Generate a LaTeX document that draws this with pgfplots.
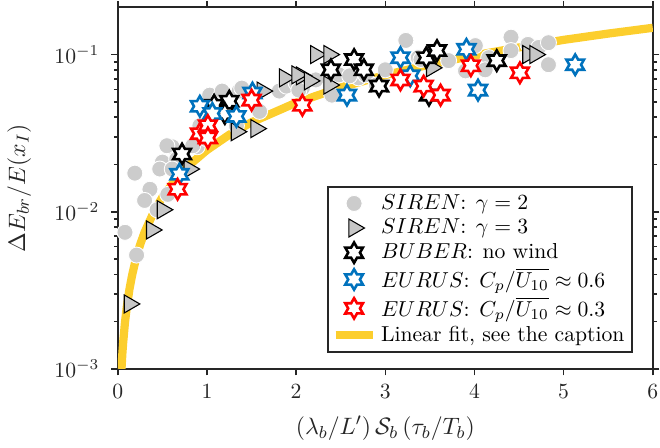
\documentclass[border=0pt]{standalone}
\usepackage{pgfplots}
\pgfplotsset{compat=1.18}

\definecolor{axgray}{rgb}{0.15,0.15,0.15}
\definecolor{sirengray}{rgb}{0.80,0.80,0.80}
\definecolor{trigray}{rgb}{0.78,0.78,0.78}
\definecolor{eurusblue}{rgb}{0.0,0.447,0.741}
\definecolor{fityellow}{RGB}{252,206,45}

% six-pointed star (hexagram) mark
\pgfdeclareplotmark{hexstar}{%
  \pgfpathmoveto{\pgfpointpolar{90}{\pgfplotmarksize}}%
  \pgfpathlineto{\pgfpointpolar{120}{0.577\pgfplotmarksize}}%
  \pgfpathlineto{\pgfpointpolar{150}{\pgfplotmarksize}}%
  \pgfpathlineto{\pgfpointpolar{180}{0.577\pgfplotmarksize}}%
  \pgfpathlineto{\pgfpointpolar{210}{\pgfplotmarksize}}%
  \pgfpathlineto{\pgfpointpolar{240}{0.577\pgfplotmarksize}}%
  \pgfpathlineto{\pgfpointpolar{270}{\pgfplotmarksize}}%
  \pgfpathlineto{\pgfpointpolar{300}{0.577\pgfplotmarksize}}%
  \pgfpathlineto{\pgfpointpolar{330}{\pgfplotmarksize}}%
  \pgfpathlineto{\pgfpointpolar{0}{0.577\pgfplotmarksize}}%
  \pgfpathlineto{\pgfpointpolar{30}{\pgfplotmarksize}}%
  \pgfpathlineto{\pgfpointpolar{60}{0.577\pgfplotmarksize}}%
  \pgfpathclose
  \pgfusepathqfillstroke}

\begin{document}
\begin{tikzpicture}
\begin{axis}[
  scale only axis,
  width=247pt, height=167pt,
  ymode=log,
  xmin=0, xmax=6, ymin=1e-3, ymax=0.2,
  xtick={0,1,2,3,4,5,6},
  ytick={1e-3,1e-2,1e-1},
  tick align=outside,
  major tick length=3pt, minor tick length=1.8pt,
  axis line style={axgray, line width=0.8pt},
  every tick/.style={axgray, line width=0.7pt},
  tick label style={color=axgray},
  yticklabel style={xshift=-2pt},
  xticklabel style={yshift=-0.5pt, inner xsep=0pt},
  xlabel={$(\lambda_b/L')\,\mathcal{S}_b\,(\tau_b/T_b)$},
  ylabel={$\Delta E_{br}/E(x_I)$},
  label style={color=axgray, font=\fontsize{11}{13}\selectfont},
  xlabel style={yshift=-1.5pt},
  ylabel style={yshift=4pt},
  legend cell align=left,
  legend style={at={(0.963,0.044)}, anchor=south east, draw=axgray,
    line width=0.8pt, fill=white, inner sep=1.5pt, row sep=-1pt,
    font=\normalsize},
]
% SIREN, gamma = 2
\addplot[only marks, mark=*, mark size=3.7pt,
  mark options={fill=sirengray, draw=white, line width=0.4pt}]
coordinates {
(0.08,0.0074) (0.21,0.0053) (0.19,0.0176) (0.36,0.0139) (0.30,0.0118)
(0.44,0.0103) (0.50,0.0207) (0.47,0.0187) (0.61,0.0259) (0.66,0.0216)
(0.56,0.0129) (0.92,0.0338) (0.89,0.0259) (1.03,0.0552) (1.14,0.0528)
(1.36,0.0586) (1.33,0.0353) (1.59,0.0435) (1.81,0.0586) (1.96,0.0640)
(0.92,0.0353) (0.55,0.0263) (0.61,0.0187) (1.17,0.0586) (1.39,0.0612)
(1.89,0.0630) (2.00,0.0660) (0.99,0.0292) (0.84,0.0263) (2.07,0.0612)
(2.03,0.0680) (2.22,0.0690) (2.40,0.0552) (2.48,0.0743) (2.70,0.0711)
(3.00,0.0800) (3.23,0.1230) (3.37,0.0956) (3.49,0.1000) (3.71,0.0915)
(3.90,0.0788) (4.01,0.1140) (4.41,0.1290) (4.60,0.1160) (4.72,0.1110)
(4.83,0.1190) (4.83,0.0862) (4.41,0.1060) (4.16,0.0956) (4.12,0.0800)
(2.03,0.0594) (2.60,0.0732) (2.78,0.0743) (2.90,0.0640) (3.40,0.0930)
};
\addlegendentry{$SIREN$: $\gamma=2$}
% SIREN, gamma = 3
\addplot[only marks, mark=triangle*, mark size=4.8pt,
  mark options={rotate=-90, fill=trigray, draw=black, line width=0.5pt}]
coordinates {
(0.13,0.00259) (0.38,0.00766) (0.50,0.0103) (0.80,0.0187) (1.33,0.0323)
(1.55,0.0338) (1.62,0.0586) (1.87,0.0711) (2.06,0.0732) (2.22,0.1000)
(2.37,0.1000) (2.01,0.0743) (2.15,0.0680) (2.37,0.0640) (3.52,0.0824)
(4.60,0.1000) (4.68,0.1000)
};
\addlegendentry{$SIREN$: $\gamma=3$}
% BUBER, no wind
\addplot[only marks, mark=hexstar, mark size=4.7pt,
  mark options={fill=white, draw=black, line width=1.2pt}]
coordinates {
(0.72,0.0233) (1.08,0.0476) (1.25,0.0505) (1.20,0.0422) (2.65,0.0929)
(2.39,0.0800) (2.76,0.0800) (2.93,0.0630) (3.46,0.0956) (3.58,0.1060)
(3.49,0.0552) (4.25,0.0915)
};
\addlegendentry{$BUBER$: no wind}
% EURUS, Cp/U10 ~ 0.6
\addplot[only marks, mark=hexstar, mark size=4.7pt,
  mark options={fill=white, draw=eurusblue, line width=1.2pt}]
coordinates {
(0.69,0.0173) (0.92,0.0469) (1.33,0.0404) (1.51,0.0569) (1.06,0.0422)
(2.57,0.0552) (3.17,0.0956) (3.91,0.1080) (4.04,0.0594) (5.13,0.0862)
(3.28,0.0732)
};
\addlegendentry{$EURUS$: $C_p/\overline{U_{10}}\approx 0.6$}
% EURUS, Cp/U10 ~ 0.3
\addplot[only marks, mark=hexstar, mark size=4.7pt,
  mark options={fill=white, draw=red, line width=1.2pt}]
coordinates {
(0.67,0.0139) (0.92,0.0314) (1.01,0.0353) (1.01,0.0295) (1.50,0.0513)
(2.07,0.0476) (3.17,0.0690) (3.43,0.0630) (3.62,0.0552) (3.96,0.0849)
(4.51,0.0766)
};
\addlegendentry{$EURUS$: $C_p/\overline{U_{10}}\approx 0.3$}
% linear fit
\addplot[fityellow, line width=3.8pt, no marks]
coordinates {
(0.041,0.00100) (0.05,0.00124) (0.06,0.00148) (0.08,0.00198) (0.10,0.00247)
(0.13,0.00321) (0.16,0.00395) (0.20,0.00494) (0.25,0.00618) (0.30,0.00741)
(0.40,0.00988) (0.50,0.0124) (0.65,0.0161) (0.80,0.0198) (1.00,0.0247)
(1.25,0.0309) (1.50,0.0371) (2.00,0.0494) (2.50,0.0618) (3.00,0.0741)
(3.50,0.0865) (4.00,0.0988) (4.50,0.111) (5.00,0.124) (5.50,0.136)
(6.00,0.148)
};
\addlegendentry{Linear fit, see the caption}
\end{axis}
\end{tikzpicture}
\end{document}
